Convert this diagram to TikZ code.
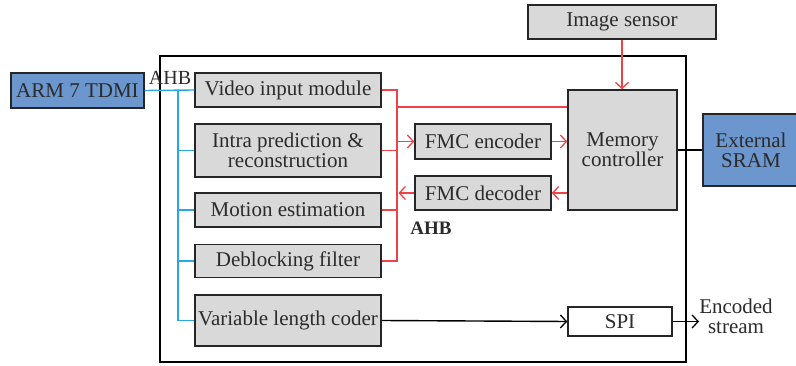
\documentclass[tikz,border=0pt]{standalone}
\usepackage{fontspec}
\setmainfont{Liberation Serif}
\usetikzlibrary{arrows.meta}
\definecolor{boxgray}{HTML}{D9D9D9}
\definecolor{armblue}{HTML}{6B96CE}
\definecolor{busred}{HTML}{EE4246}
\definecolor{busblue}{HTML}{29A9E1}
\definecolor{txt}{HTML}{2B2B2B}
\begin{document}
\begin{tikzpicture}[x=1pt,y=-1pt,
  box/.style={draw=black!85, line width=1.5pt, fill=boxgray, text=txt, inner sep=0pt, align=center, font=\fontsize{21}{22}\selectfont},
  tip/.style={-{Straight Barb[length=6pt,width=13pt,line width=1.3pt]}},
  redl/.style={draw=busred, line width=1.4pt},
  bluel/.style={draw=busblue, line width=1.4pt},
  blkl/.style={draw=black, line width=1.4pt}]
\useasboundingbox (0,0) rectangle (796,366);
% outer frame
\draw[line width=1.4pt] (160,56) rectangle (686,362);
% nodes
\node[box, fill=armblue, minimum width=133pt, minimum height=35pt] (arm) at (77.5,90.5) {ARM 7 TDMI};
\node[box, minimum width=186pt, minimum height=34pt] (vim) at (288,90) {Video input module};
\node[box, minimum width=186pt, minimum height=53pt] (intra) at (288,150.5) {Intra prediction \&\\[-2pt]reconstruction};
\node[box, minimum width=186pt, minimum height=34pt] (me) at (288,210) {Motion estimation};
\node[box, minimum width=186pt, minimum height=33pt] (dbf) at (288,261) {Deblocking filter};
\node[box, minimum width=186pt, minimum height=51pt] (vlc) at (288,320.5) {Variable length coder};
\node[box, minimum width=136pt, minimum height=35pt] (enc) at (483,141.5) {FMC encoder};
\node[box, minimum width=136pt, minimum height=34pt] (dec) at (483,193) {FMC decoder};
\node[box, minimum width=109pt, minimum height=120pt] (mc) at (622.5,150) {Memory\\[-2pt]controller};
\node[box, fill=armblue, minimum width=96pt, minimum height=72pt] (sram) at (751,150) {External\\[-2pt]SRAM};
\node[box, minimum width=188pt, minimum height=34pt] (img) at (622,22) {Image sensor};
\node[box, fill=white, minimum width=104pt, minimum height=29pt] (spi) at (620,321.5) {SPI};
\node[text=txt, align=center, inner sep=0pt, font=\fontsize{21}{20}\selectfont] (enst) at (736,316) {Encoded\\stream};
\node[text=txt, inner sep=0pt, font=\fontsize{20}{20}\selectfont] (ahb1) at (170,78) {AHB};
\node[text=txt, inner sep=0pt, font=\bfseries\fontsize{19}{20}\selectfont] (ahb2) at (431,228) {AHB};
% coordinates for buses
\coordinate (bb) at (178,0);
\coordinate (rb) at (397,0);
\coordinate (rt) at (0,107);
\coordinate (sx) at (622,0);
\coordinate (es) at (699,321.5);
% blue AHB bus
\draw[bluel] (arm.east) -- (vim.west);
\draw[bluel] (vim.west -| bb) |- (vlc.west);
\draw[bluel] (intra.west -| bb) -- (intra.west);
\draw[bluel] (me.west -| bb) -- (me.west);
\draw[bluel] (dbf.west -| bb) -- (dbf.west);
% red bus
\draw[redl] (vim.east) -| (dbf.east -| rb) -- (dbf.east);
\draw[redl] (intra.east) -- (intra.east -| rb);
\draw[redl] (me.east) -- (me.east -| rb);
\draw[redl] (mc.west |- rt) -- (rb |- rt);
\draw[redl, tip] (enc.west -| rb) -- (enc.west);
\draw[redl, tip] (enc.east) -- (enc.east -| mc.west);
\draw[redl, tip] (dec.east -| mc.west) -- (dec.east);
\draw[redl, tip] (dec.west) -- ([xshift=1.5pt]dec.west -| rb);
\draw[redl, tip] (img.south -| sx) -- (mc.north -| sx);
% black connections
\draw[blkl] (mc.east) -- (sram.west);
\draw[blkl, tip] (vlc.east) -- (spi.west);
\draw[blkl, tip] (spi.east) -- (es);
\end{tikzpicture}
\end{document}
